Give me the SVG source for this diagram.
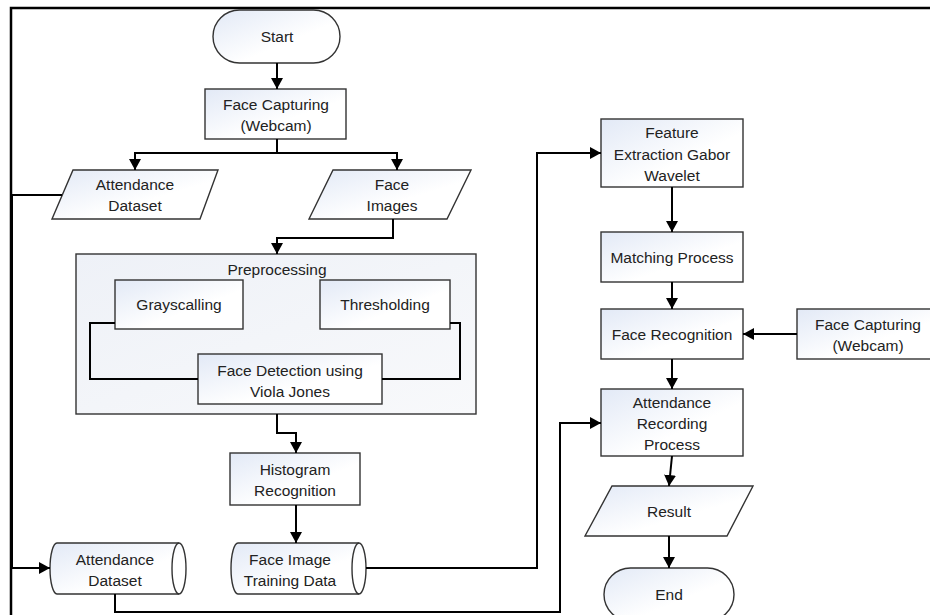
<svg xmlns="http://www.w3.org/2000/svg" width="930" height="615" viewBox="0 0 930 615">
  <style>
    .node { fill: url(#g); stroke: #333; stroke-width: 1.4; }
    .cont { fill: url(#g2); stroke: #333; stroke-width: 1.4; }
    .inner { fill: none; stroke: #333; stroke-width: 1.4; }
    .t { font-family: "Liberation Sans", Arial, sans-serif; font-size: 15.5px; fill: #222; text-anchor: middle; }
    .c { fill: none; stroke: #000; stroke-width: 2; }
    .a { marker-end: url(#arr); }
    .frame { fill: none; stroke: #000; stroke-width: 2.5; }
  </style>
  <defs>
    <linearGradient id="g" x1="0" y1="0" x2="1" y2="1">
      <stop offset="0" stop-color="#e2e9f6"/>
      <stop offset="0.6" stop-color="#ffffff"/>
    </linearGradient>
    <linearGradient id="g2" x1="0" y1="0" x2="1" y2="1">
      <stop offset="0" stop-color="#eef1f7"/>
      <stop offset="1" stop-color="#f8f9fb"/>
    </linearGradient>
    <marker id="arr" markerUnits="userSpaceOnUse" markerWidth="12" markerHeight="12" refX="11" refY="6" orient="auto">
      <path d="M0,0 L11,6 L0,12 Z" fill="#000"/>
    </marker>
  </defs>

  <rect x="0" y="0" width="930" height="615" fill="#fff"/>
  <path class="frame" d="M11,615 V8 H930"/>

  <g id="start">
    <rect class="node" x="213" y="10" width="127" height="53" rx="26.5" ry="26.5"/>
    <text class="t" x="277" y="42">Start</text>
  </g>

  <g id="face-capturing">
    <rect class="node" x="205" y="89" width="141" height="50"/>
    <text class="t" x="276" y="109.5"><tspan x="276">Face Capturing</tspan><tspan x="276" dy="21">(Webcam)</tspan></text>
  </g>

  <g id="attendance-dataset-io">
    <polygon class="node" points="73,170 218,170 200,219 52,219"/>
    <text class="t" x="135" y="190"><tspan x="135">Attendance</tspan><tspan x="135" dy="21">Dataset</tspan></text>
  </g>

  <g id="face-images">
    <polygon class="node" points="333,170 471,170 447,219 309,219"/>
    <text class="t" x="392" y="190"><tspan x="392">Face</tspan><tspan x="392" dy="21">Images</tspan></text>
  </g>

  <g id="preprocessing">
    <rect class="cont" x="76" y="254" width="400" height="160"/>
    <text class="t" x="277" y="275">Preprocessing</text>
  </g>

  <g id="grayscalling">
    <rect class="node" x="115" y="280" width="128" height="49"/>
    <text class="t" x="179" y="310">Grayscalling</text>
  </g>

  <g id="thresholding">
    <rect class="node" x="320" y="280" width="130" height="49"/>
    <text class="t" x="385" y="310">Thresholding</text>
  </g>

  <g id="face-detection">
    <rect class="node" x="198" y="354" width="184" height="50"/>
    <text class="t" x="290" y="376"><tspan x="290">Face Detection using</tspan><tspan x="290" dy="21">Viola Jones</tspan></text>
  </g>

  <g id="histogram">
    <rect class="node" x="230" y="453" width="130" height="52"/>
    <text class="t" x="295" y="475"><tspan x="295">Histogram</tspan><tspan x="295" dy="21">Recognition</tspan></text>
  </g>

  <g id="attendance-dataset-store">
    <path class="node" d="M57,543 H179 A7,25.5 0 0 1 179,594 H57 A7,25.5 0 0 1 57,543 Z"/>
    <path class="inner" d="M179,543 A7,25.5 0 0 0 179,594"/>
    <text class="t" x="115" y="565"><tspan x="115">Attendance</tspan><tspan x="115" dy="21">Dataset</tspan></text>
  </g>

  <g id="face-image-training">
    <path class="node" d="M238,543 H359 A7,25.5 0 0 1 359,594 H238 A7,25.5 0 0 1 238,543 Z"/>
    <path class="inner" d="M359,543 A7,25.5 0 0 0 359,594"/>
    <text class="t" x="290" y="565"><tspan x="290">Face Image</tspan><tspan x="290" dy="21">Training Data</tspan></text>
  </g>

  <g id="feature-extraction">
    <rect class="node" x="601" y="119" width="142" height="68"/>
    <text class="t" x="672" y="138"><tspan x="672">Feature</tspan><tspan x="672" dy="21.5">Extraction Gabor</tspan><tspan x="672" dy="21.5">Wavelet</tspan></text>
  </g>

  <g id="matching">
    <rect class="node" x="601" y="232" width="142" height="50"/>
    <text class="t" x="672" y="263">Matching Process</text>
  </g>

  <g id="face-recognition">
    <rect class="node" x="601" y="309" width="142" height="50"/>
    <text class="t" x="672" y="340">Face Recognition</text>
  </g>

  <g id="face-capturing-2">
    <rect class="node" x="797" y="309" width="143" height="50"/>
    <text class="t" x="868" y="330"><tspan x="868">Face Capturing</tspan><tspan x="868" dy="21">(Webcam)</tspan></text>
  </g>

  <g id="attendance-recording">
    <rect class="node" x="601" y="389" width="142" height="67"/>
    <text class="t" x="672" y="408"><tspan x="672">Attendance</tspan><tspan x="672" dy="21">Recording</tspan><tspan x="672" dy="21">Process</tspan></text>
  </g>

  <g id="result">
    <polygon class="node" points="612,486 753,486 727,536 585,536"/>
    <text class="t" x="669" y="517">Result</text>
  </g>

  <g id="end">
    <rect class="node" x="604" y="568" width="130" height="53" rx="26.5" ry="26.5"/>
    <text class="t" x="669" y="600">End</text>
  </g>

  <g id="connectors">
    <path class="c a" d="M277,63 V89"/>
    <path class="c a" d="M277,139 V153 H135 V170"/>
    <path class="c a" d="M277,139 V153 H397 V170"/>
    <path class="c a" d="M62,195 H12 V568 H50"/>
    <path class="c a" d="M393,219 V238 H277 V254"/>
    <path class="c" d="M115,323 H90 V379 H198"/>
    <path class="c" d="M450,323 H460 V379 H382"/>
    <path class="c a" d="M277,414 V433 H296 V453"/>
    <path class="c a" d="M296,505 V543"/>
    <path class="c a" d="M366,568 H537 V153 H601"/>
    <path class="c a" d="M115,594 V612 H560 V423 H601"/>
    <path class="c a" d="M672,187 V232"/>
    <path class="c a" d="M672,282 V309"/>
    <path class="c a" d="M797,334 H743"/>
    <path class="c a" d="M672,359 V389"/>
    <path class="c a" d="M672,456 L669,486"/>
    <path class="c a" d="M669,536 V568"/>
  </g>
</svg>
